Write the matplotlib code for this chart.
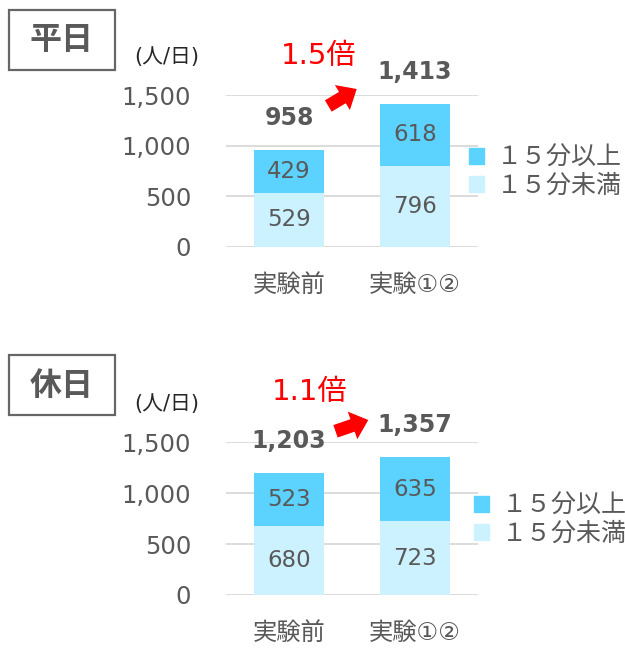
import matplotlib
matplotlib.use("Agg")
import matplotlib.pyplot as plt
from matplotlib.patches import Rectangle, FancyArrowPatch, Patch

plt.rcParams['font.family'] = ['DejaVu Sans', 'Noto Sans CJK JP']

# data
categories = ['実験前', '実験①②']
weekday_under15 = [529, 796]
weekday_over15 = [429, 618]
weekday_total = [958, 1413]
holiday_under15 = [680, 723]
holiday_over15 = [523, 635]
holiday_total = [1203, 1357]
panel_titles = ['平日', '休日']
series_labels = ['１５分以上', '１５分未満']
yticks = [0, 500, 1000, 1500]

DARK = '#5BD2FF'; LIGHT = '#CCF1FF'; GRAY = '#595959'; GRID = '#D9D9D9'; RED = '#FF0000'
W, H = 625, 649

fig = plt.figure(figsize=(W/100, H/100), dpi=100)


def fx(px):
    return px / W


def fy(py):
    return 1 - py / H


def panel(top_px, bot_px, under, over, total, title, box_top, legend_pos, arrow_px):
    ax = fig.add_axes([fx(226), fy(bot_px), fx(478) - fx(226), fy(top_px) - fy(bot_px)])
    x = list(range(len(categories)))
    ax.bar(x, under, width=0.55, color=LIGHT, zorder=2)
    ax.bar(x, over, width=0.55, bottom=under, color=DARK, zorder=2)
    for i in x:
        ax.text(i, under[i] / 2, f'{under[i]}', ha='center', va='center',
                fontsize=16.5, color=GRAY, zorder=3)
        ax.text(i, under[i] + over[i] / 2, f'{over[i]}', ha='center', va='center',
                fontsize=16.5, color=GRAY, zorder=3)
        ax.annotate(f'{total[i]:,}', (i, under[i] + over[i]), xytext=(0, 23),
                    textcoords='offset points', ha='center', va='center',
                    fontsize=17, fontweight='bold', color=GRAY, annotation_clip=False)
    ax.set_xlim(-0.5, 1.5)
    ax.set_ylim(0, 1500)
    ax.set_yticks(yticks)
    ax.set_yticklabels([f'{v:,}' for v in yticks])
    ax.set_xticks(x)
    ax.set_xticklabels(categories)
    ax.tick_params(axis='y', length=0, pad=25, labelsize=17.5, labelcolor=GRAY)
    ax.tick_params(axis='x', length=0, pad=19, labelsize=17.5, labelcolor=GRAY)
    for s in ax.spines.values():
        s.set_visible(False)
    ax.yaxis.grid(True, color=GRID, lw=1.3, zorder=0)
    ax.set_axisbelow(True)

    # ratio callout
    (ax0, ay0), (ax1, ay1), (tx, ty) = arrow_px
    fig.text(fx(tx), fy(ty), f'{total[1] / total[0]:.1f}倍', ha='center', va='center',
             fontsize=21, color=RED)
    fig.add_artist(FancyArrowPatch((fx(ax0), fy(ay0)), (fx(ax1), fy(ay1)),
                   transform=fig.transFigure,
                   arrowstyle='simple,head_length=12,head_width=21,tail_width=9.5',
                   color=RED, shrinkA=0, shrinkB=0, lw=0))

    # title box
    fig.add_artist(Rectangle((fx(8.5), fy(box_top + 60)), fx(106.5), 60 / H,
                   transform=fig.transFigure, fill=False, ec='#666666', lw=1.6))
    fig.text(fx(61.5), fy(box_top + 31), title, ha='center', va='center',
             fontsize=23, fontweight='bold', color=GRAY)
    fig.text(fx(167), fy(top_px - 38), '(人/日)', ha='center', va='center',
             fontsize=15, color='#262626')

    handles = [Patch(color=DARK), Patch(color=LIGHT)]
    lx, ly = legend_pos
    fig.legend(handles, series_labels, loc='center left',
               bbox_to_anchor=(fx(lx), fy(ly)), bbox_transform=fig.transFigure,
               frameon=False, fontsize=18, handlelength=0.6, handleheight=0.6,
               handletextpad=0.5, labelspacing=0.15, borderpad=0, borderaxespad=0,
               labelcolor=GRAY)


panel(95, 246.7, weekday_under15, weekday_over15, weekday_total, panel_titles[0], 10,
      (469, 171.5), ((328.3, 106), (356.7, 89), (318.7, 56)))
panel(442.3, 595, holiday_under15, holiday_over15, holiday_total, panel_titles[1], 355,
      (474, 520), ((335.5, 431.3), (368.3, 420), (310, 391.5)))

fig.savefig('out.png', dpi=100, facecolor='white')
